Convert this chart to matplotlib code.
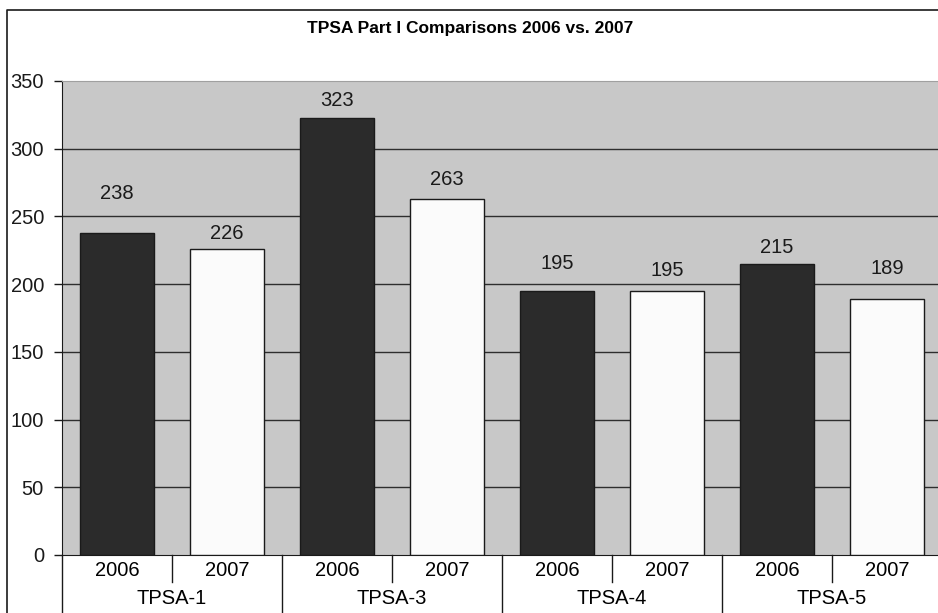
import matplotlib
matplotlib.use("Agg")
import matplotlib.pyplot as plt
from matplotlib.lines import Line2D
import numpy as np

plt.rcParams['font.family'] = ['Liberation Sans', 'DejaVu Sans']

groups = ['TPSA-1', 'TPSA-3', 'TPSA-4', 'TPSA-5']
years = ['2006', '2007']
scores_2006 = [238, 323, 195, 215]
scores_2007 = [226, 263, 195, 189]

# how far each value label sits above its bar, in points
lift_2006 = [28, 12, 20, 12]
lift_2007 = [11, 14, 15, 22]

fig = plt.figure(figsize=(9.38, 6.13), dpi=100)
ax = fig.add_axes([62 / 938, 58 / 613, 880 / 938, 474 / 613])
ax.set_facecolor('#c8c8c8')

n = len(groups)
x06 = np.arange(n) * 2 + 0.5
x07 = np.arange(n) * 2 + 1.5
w = 0.665

# grid first, bars on top
for v in range(50, 350, 50):
    ax.axhline(v, color='#2e2e2e', lw=1.0, zorder=1)

ax.bar(x06, scores_2006, w, color='#2b2b2b', edgecolor='#1a1a1a', lw=1, zorder=3)
ax.bar(x07, scores_2007, w, color='#fbfbfb', edgecolor='#1a1a1a', lw=1, zorder=3)

for xs, vals, lifts in [(x06, scores_2006, lift_2006), (x07, scores_2007, lift_2007)]:
    for x, v, dy in zip(xs, vals, lifts):
        ax.annotate(str(v), (x, v), xytext=(0, dy), textcoords='offset points',
                    ha='center', va='center', fontsize=14.5, color='#1a1a1a')

ax.set_xlim(0, 2 * n)
ax.set_ylim(0, 350)
ax.set_yticks(range(0, 351, 50))
ax.tick_params(axis='y', length=6, width=1, pad=7, labelsize=14.5, colors='#1a1a1a')
ax.set_xticks([])

ax.spines['right'].set_visible(False)
ax.spines['top'].set_color('#a0a0a0')
ax.spines['left'].set_color('#1a1a1a')
ax.spines['bottom'].set_color('#1a1a1a')

# two-level category axis: years, then groups, with divider lines
tr = ax.get_xaxis_transform()
for i in range(n):
    ax.add_line(Line2D([2 * i + 1] * 2, [0, -0.057], transform=tr, color='#1a1a1a',
                       lw=1, clip_on=False))
    ax.add_line(Line2D([2 * i] * 2, [0, -0.2], transform=tr, color='#1a1a1a',
                       lw=1, clip_on=False))
    ax.text(x06[i], -0.032, years[0], transform=tr, ha='center', va='center', fontsize=14.5)
    ax.text(x07[i], -0.032, years[1], transform=tr, ha='center', va='center', fontsize=14.5)
    ax.text(2 * i + 1, -0.092, groups[i], transform=tr, ha='center', va='center', fontsize=14.5)

fig.text(470 / 938, 1 - 28 / 613, 'TPSA Part I Comparisons 2006 vs. 2007',
         ha='center', va='center', fontsize=12.5, fontweight='bold')

# chart border (top and left edges)
fig.add_artist(Line2D([7 / 938, 7 / 938, 1.0], [0.0, 1 - 10 / 613, 1 - 10 / 613],
                      transform=fig.transFigure, color='#1a1a1a', lw=1.2))

fig.savefig('out.png', dpi=100)
